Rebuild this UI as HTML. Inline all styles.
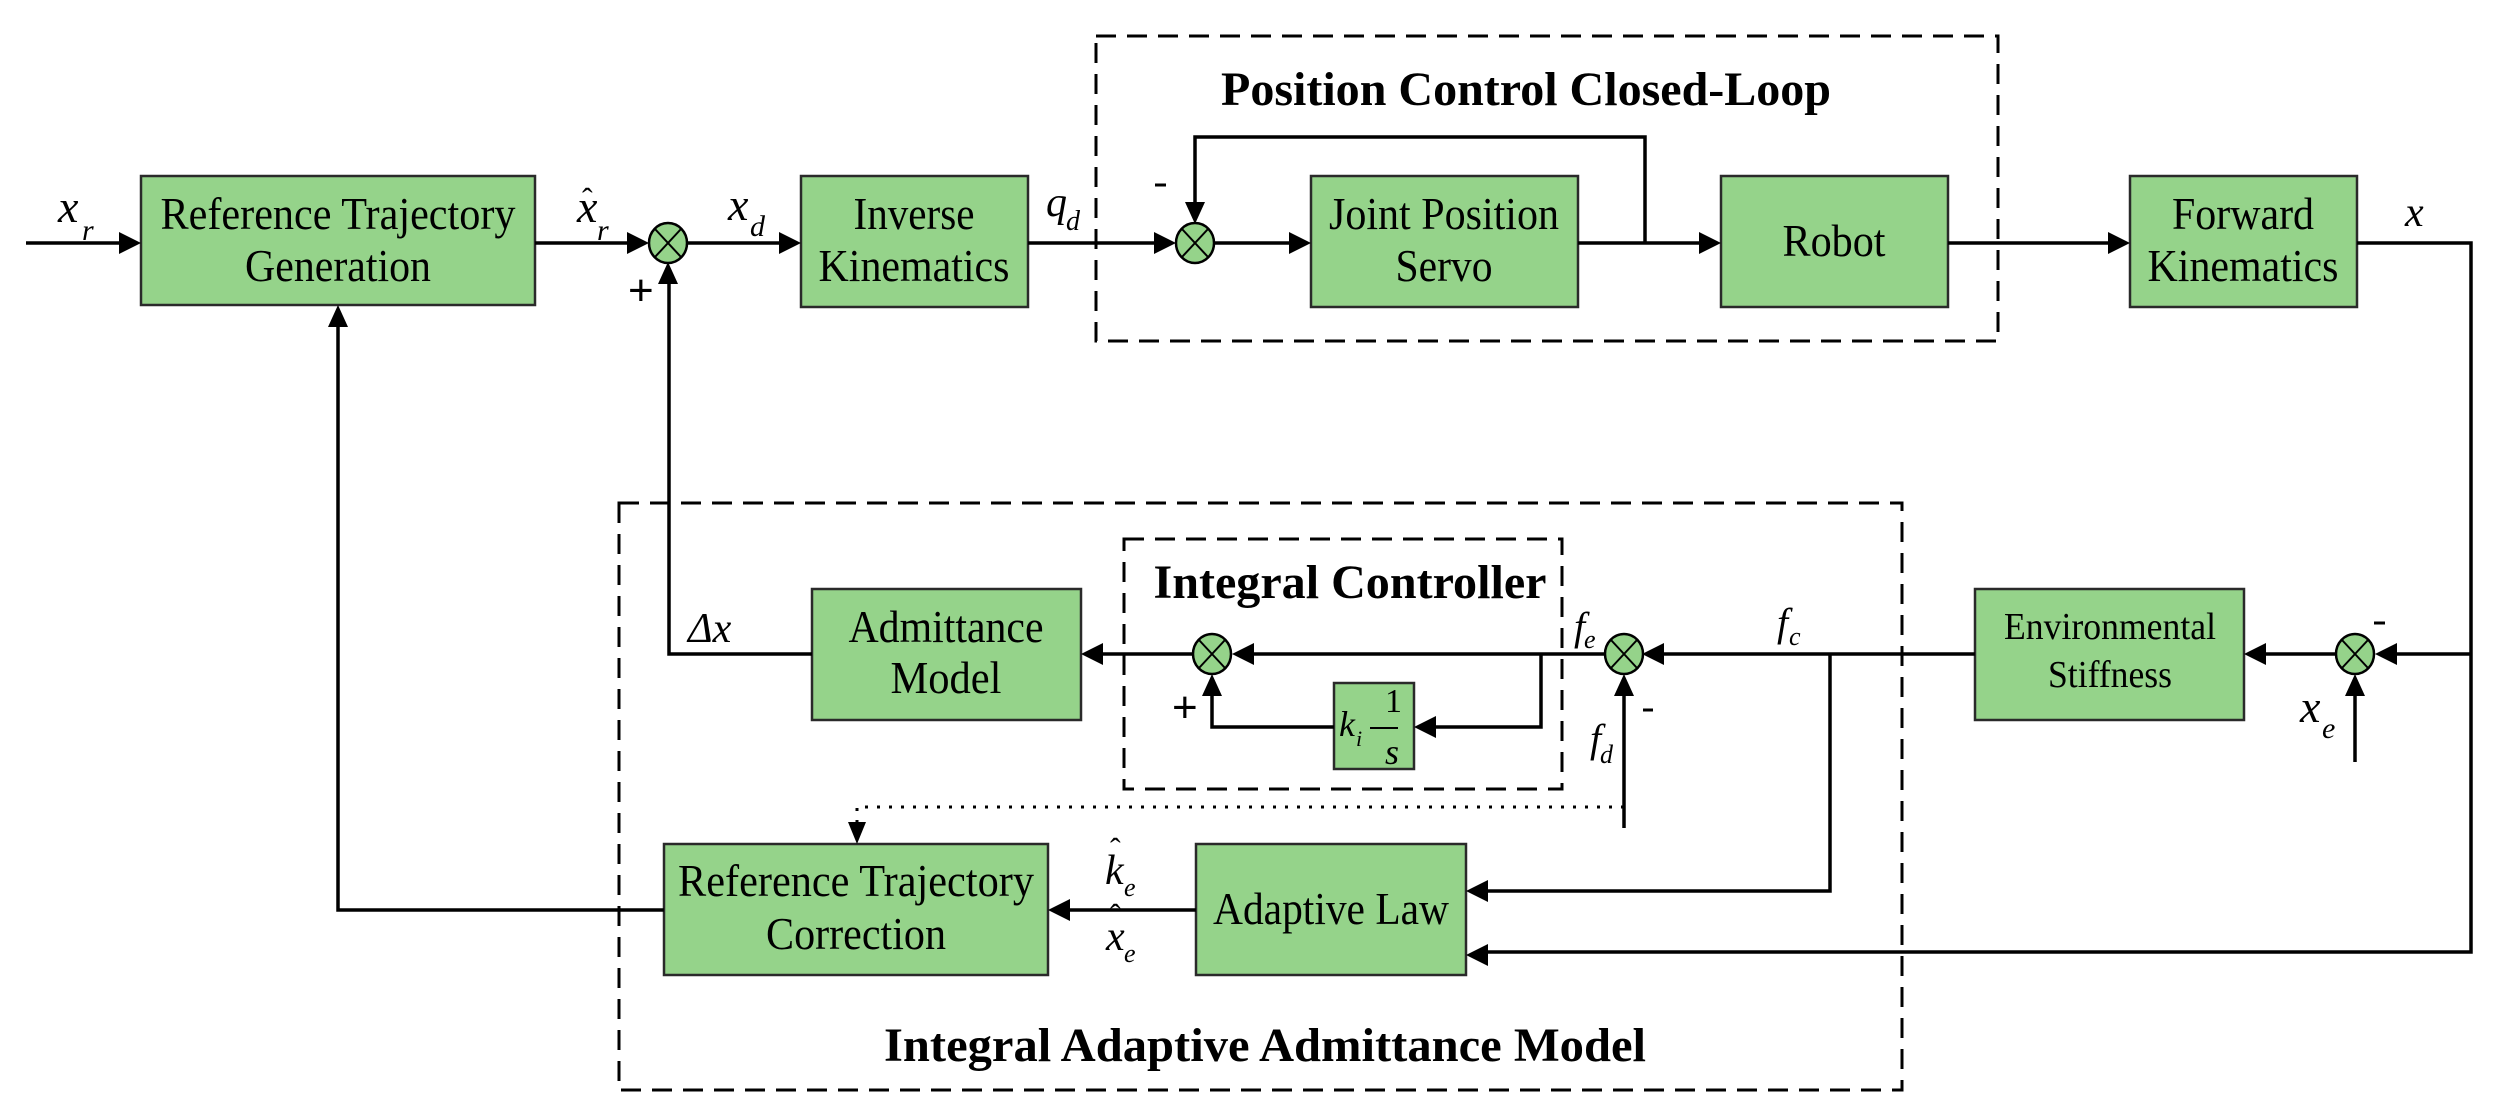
<!DOCTYPE html>
<html><head><meta charset="utf-8"><style>html,body{margin:0;padding:0;background:#fff}svg{display:block}</style></head>
<body>
<svg width="2505" height="1118" viewBox="0 0 2505 1118" xmlns="http://www.w3.org/2000/svg" font-family="'Liberation Serif', serif">
<g fill="none" stroke="#000" stroke-width="3" stroke-dasharray="20 11">
<rect x="1096" y="36" width="902" height="305"/>
<rect x="619" y="503" width="1283" height="587"/>
<rect x="1124" y="539" width="438" height="250"/>
</g>
<g fill="#95d38a" stroke="#2a2a2a" stroke-width="2.5">
<rect x="141" y="176" width="394" height="129"/>
<rect x="801" y="176" width="227" height="131"/>
<rect x="1311" y="176" width="267" height="131"/>
<rect x="1721" y="176" width="227" height="131"/>
<rect x="2130" y="176" width="227" height="131"/>
<rect x="812" y="589" width="269" height="131"/>
<rect x="1975" y="589" width="269" height="131"/>
<rect x="1334" y="683" width="80" height="86"/>
<rect x="664" y="844" width="384" height="131"/>
<rect x="1196" y="844" width="270" height="131"/>
</g>
<g fill="none" stroke="#000" stroke-width="3.5">
<path d="M26 243H120M535 243H628M687 243H780M1028 243H1155M1214 243H1290M1578 243H1700M1948 243H2109M2357 243H2471V952H1487"/>
<path d="M1645 243V137H1195V205"/>
<path d="M2471 654H2396M2335 654H2265M1975 654H1663M1605 654H1253M1192 654H1102"/>
<path d="M1541 654V727H1435M1334 727H1212V695"/>
<path d="M1624 828V695"/>
<path d="M1830 654V891H1487"/>
<path d="M2355 762V695"/>
<path d="M1196 910H1069"/>
<path d="M812 654H669V284"/>
<path d="M664 910H338V326"/>
</g>
<path d="M1624 807H857V822" fill="none" stroke="#000" stroke-width="3" stroke-dasharray="3 9"/>
<g fill="#000">
<path d="M141 243l-22-11v22z"/>
<path d="M649 243l-22-11v22z"/>
<path d="M801 243l-22-11v22z"/>
<path d="M1176 243l-22-11v22z"/>
<path d="M1311 243l-22-11v22z"/>
<path d="M1721 243l-22-11v22z"/>
<path d="M2130 243l-22-11v22z"/>
<path d="M1195 224l-10-22h20z"/>
<path d="M668 262l-10 22h20z"/>
<path d="M338 305l-10 22h20z"/>
<path d="M2375 654l22-11v22z"/>
<path d="M2244 654l22-11v22z"/>
<path d="M1642 654l22-11v22z"/>
<path d="M1232 654l22-11v22z"/>
<path d="M1081 654l22-11v22z"/>
<path d="M1414 727l22-11v22z"/>
<path d="M1212 674l-10 22h20z"/>
<path d="M1624 674l-10 22h20z"/>
<path d="M2355 674l-10 22h20z"/>
<path d="M1466 891l22-11v22z"/>
<path d="M1466 955l22-11v22z"/>
<path d="M1048 910l22-11v22z"/>
<path d="M857 844l-9-22h18z"/>
</g>
<g fill="#95d38a" stroke="#000" stroke-width="2.5">
<ellipse cx="668" cy="243" rx="19" ry="20"/>
<ellipse cx="1195" cy="243" rx="19" ry="20"/>
<ellipse cx="1212" cy="654" rx="19" ry="20"/>
<ellipse cx="1624" cy="654" rx="19" ry="20"/>
<ellipse cx="2355" cy="654" rx="19" ry="20"/>
</g>
<g stroke="#000" stroke-width="2">
<path d="M655 229l26 28M681 229l-26 28"/>
<path d="M1182 229l26 28M1208 229l-26 28"/>
<path d="M1199 640l26 28M1225 640l-26 28"/>
<path d="M1611 640l26 28M1637 640l-26 28"/>
<path d="M2342 640l26 28M2368 640l-26 28"/>
</g>
<g font-size="46" text-anchor="middle">
<text x="338" y="229" textLength="355" lengthAdjust="spacingAndGlyphs">Reference Trajectory</text>
<text x="338" y="281" textLength="186" lengthAdjust="spacingAndGlyphs">Generation</text>
<text x="914" y="229" textLength="121" lengthAdjust="spacingAndGlyphs">Inverse</text>
<text x="914" y="281" textLength="191" lengthAdjust="spacingAndGlyphs">Kinematics</text>
<text x="1444" y="229" textLength="230" lengthAdjust="spacingAndGlyphs">Joint Position</text>
<text x="1444" y="281" textLength="97" lengthAdjust="spacingAndGlyphs">Servo</text>
<text x="1834" y="256" textLength="103" lengthAdjust="spacingAndGlyphs">Robot</text>
<text x="2243" y="229" textLength="142" lengthAdjust="spacingAndGlyphs">Forward</text>
<text x="2243" y="281" textLength="191" lengthAdjust="spacingAndGlyphs">Kinematics</text>
<text x="946" y="642" textLength="195" lengthAdjust="spacingAndGlyphs">Admittance</text>
<text x="946" y="693" textLength="111" lengthAdjust="spacingAndGlyphs">Model</text>
<text x="856" y="896" textLength="356" lengthAdjust="spacingAndGlyphs">Reference Trajectory</text>
<text x="856" y="949" textLength="180" lengthAdjust="spacingAndGlyphs">Correction</text>
<text x="1331" y="924" textLength="236" lengthAdjust="spacingAndGlyphs">Adaptive Law</text>
<text x="2110" y="639" font-size="38" textLength="212" lengthAdjust="spacingAndGlyphs">Environmental</text>
<text x="2110" y="687" font-size="38" textLength="124" lengthAdjust="spacingAndGlyphs">Stiffness</text>
</g>
<g font-size="48" font-weight="bold" text-anchor="middle">
<text x="1526" y="105" textLength="610" lengthAdjust="spacingAndGlyphs">Position Control Closed-Loop</text>
<text x="1350" y="598" textLength="393" lengthAdjust="spacingAndGlyphs">Integral Controller</text>
<text x="1265" y="1061" textLength="762" lengthAdjust="spacingAndGlyphs">Integral Adaptive Admittance Model</text>
</g>
<g font-style="italic" font-size="46">
<text x="58" y="222">x</text><text x="82" y="240" font-size="30">r</text>
<text x="577" y="222">x</text><text x="597" y="240" font-size="30">r</text><text x="582" y="210" font-size="32" font-style="normal">ˆ</text>
<text x="728" y="220">x</text><text x="750" y="236" font-size="30">d</text>
<text x="1046" y="216" font-size="42">q</text><text x="1066" y="230" font-size="28">d</text>
<text x="2405" y="226" font-size="42">x</text>
<text x="688" y="642" font-size="42">Δx</text>
<text x="1574" y="640" font-size="40">f</text><text x="1584" y="648" font-size="26">e</text>
<text x="1777" y="636" font-size="40">f</text><text x="1789" y="645" font-size="26">c</text>
<text x="1590" y="752" font-size="40">f</text><text x="1600" y="763" font-size="26">d</text>
<text x="2300" y="722">x</text><text x="2322" y="738" font-size="30">e</text>
<text x="1105" y="884" font-size="42">k</text><text x="1124" y="896" font-size="26">e</text><text x="1110" y="860" font-size="32" font-style="normal">ˆ</text>
<text x="1106" y="950" font-size="42">x</text><text x="1124" y="962" font-size="26">e</text><text x="1110" y="926" font-size="32" font-style="normal">ˆ</text>
<text x="1339" y="736" font-size="36">k</text><text x="1356" y="746" font-size="22">i</text>
<text x="1385" y="764" font-size="36">s</text>
</g>
<text x="1385" y="712" font-size="34">1</text>
<path d="M1370 728H1398" stroke="#000" stroke-width="2"/>
<g font-size="44" font-family="'Liberation Sans', sans-serif">
<text x="628" y="305">+</text>
<text x="1172" y="722">+</text>
</g>
<g stroke="#000" stroke-width="3">
<path d="M1155 185H1166M1643 710H1653M2374 623H2385"/>
</g>
</svg>
</body></html>
